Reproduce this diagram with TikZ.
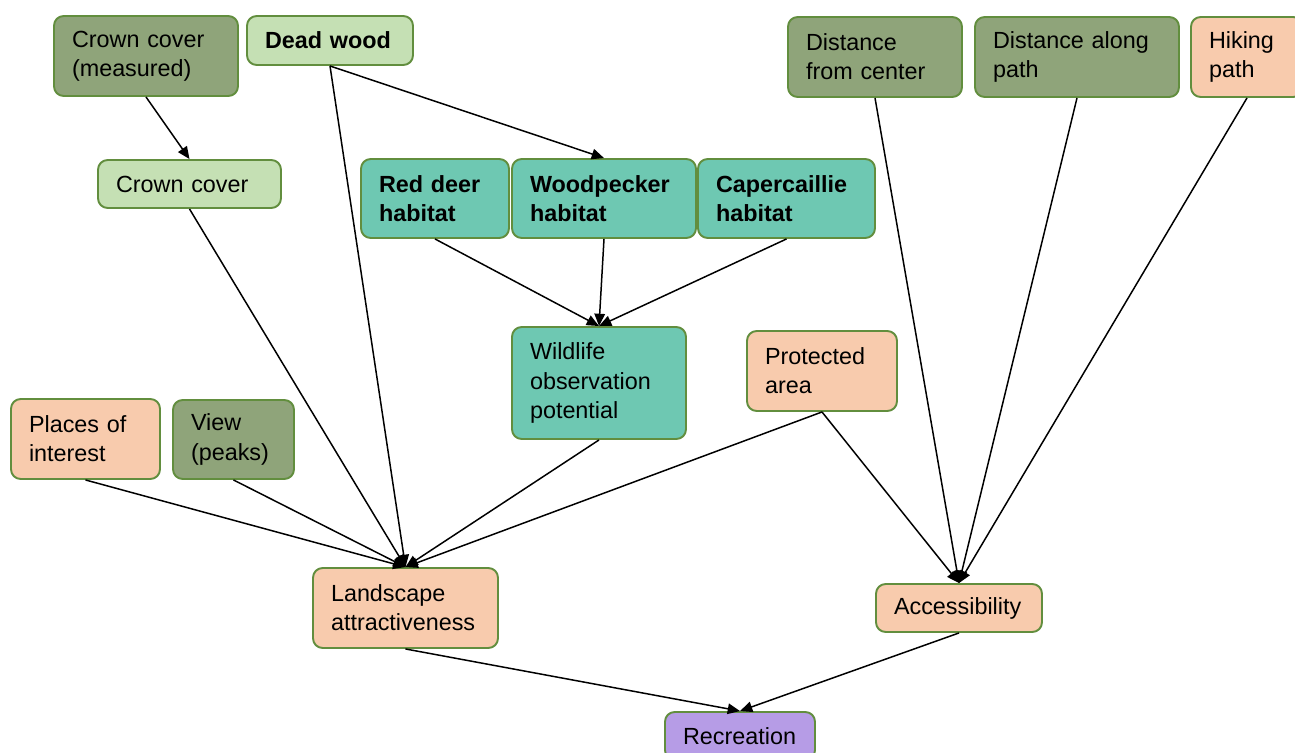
\documentclass[tikz,border=0pt]{standalone}
\usepackage{fontspec}
\setmainfont{Liberation Sans}
\usetikzlibrary{arrows.meta}

\definecolor{oliva}{RGB}{143,164,122}
\definecolor{verdeclaro}{RGB}{197,224,180}
\definecolor{turquesa}{RGB}{110,200,178}
\definecolor{melocoton}{RGB}{248,203,173}
\definecolor{lila}{RGB}{182,156,230}
\definecolor{borde}{RGB}{98,142,62}

\begin{document}
\begin{tikzpicture}[x=0.02cm,y=-0.02cm,
    caja/.style={draw=borde,line width=1.1pt,rounded corners=5.5pt,align=left,
      inner xsep=0.36cm,inner ysep=0pt,font=\fontsize{13.3}{16.6}\selectfont},
    negrita/.style={font=\fontsize{13.3}{16.6}\selectfont\bfseries},
    flecha/.style={line width=0.85pt,-{Triangle[length=7pt,width=6pt]}}]
  \clip (0,0) rectangle (1295,753);
  \fill[white] (0,0) rectangle (1295,753);

  % fila superior
  \node[caja,fill=oliva,text width=2.96cm,minimum height=1.6cm] (cobmed) at (146,56) {Crown cover\\(measured)};
  \node[caja,negrita,fill=verdeclaro,text width=2.6cm,minimum height=0.98cm] (muerta) at (330,40.5) {Dead wood};
  \node[caja,fill=oliva,text width=2.76cm,minimum height=1.6cm] (dcentro) at (875,57) {Distance\\from center};
  \node[caja,fill=oliva,text width=3.36cm,minimum height=1.6cm] (dcamino) at (1077,57) {Distance along\\path};
  \node[caja,fill=melocoton,text width=1.52cm,minimum height=1.6cm] (sendero) at (1247,57) {Hiking\\path};

  \node[caja,fill=verdeclaro,text width=2.94cm,minimum height=0.96cm] (cob) at (189.5,184) {Crown cover};

  % habitats
  \node[caja,negrita,fill=turquesa,text width=2.24cm,minimum height=1.58cm] (ciervo) at (435,198.5) {Red deer\\habitat};
  \node[caja,negrita,fill=turquesa,text width=2.96cm,minimum height=1.58cm] (pico) at (604,198.5) {Woodpecker\\habitat};
  \node[caja,negrita,fill=turquesa,text width=2.82cm,minimum height=1.58cm] (urogallo) at (786.5,198.5) {Capercaillie\\habitat};

  \node[caja,fill=turquesa,text width=2.76cm,minimum height=2.24cm] (fauna) at (599,383) {Wildlife\\observation\\potential};
  \node[caja,fill=melocoton,text width=2.28cm,minimum height=1.6cm] (protegida) at (822,371) {Protected\\area};

  \node[caja,fill=melocoton,text width=2.26cm,minimum height=1.6cm] (lugares) at (85.5,439) {Places of\\interest};
  \node[caja,fill=oliva,text width=1.70cm,minimum height=1.58cm] (vista) at (233.5,439.5) {View\\(peaks)};

  \node[caja,fill=melocoton,text width=2.98cm,minimum height=1.6cm] (paisaje) at (405.5,608) {Landscape\\attractiveness};
  \node[caja,fill=melocoton,text width=2.6cm,minimum height=0.96cm] (acceso) at (959,608) {Accessibility};
  \node[caja,fill=lila,text width=2.28cm,minimum height=0.96cm] (recreo) at (740,736) {Recreation};

  % conexiones
  \draw[flecha] (cobmed.south) -- (cob.north);
  \draw[flecha] (muerta.south) -- (pico.north);
  \foreach \a in {ciervo,pico,urogallo} {
    \draw[flecha] (\a.south) -- (fauna.north);
  }
  \foreach \a in {lugares,vista,cob,muerta,fauna,protegida} {
    \draw[flecha] (\a.south) -- (paisaje.north);
  }
  \foreach \a in {protegida,dcentro,dcamino,sendero} {
    \draw[flecha] (\a.south) -- (acceso.north);
  }
  \draw[flecha] (paisaje.south) -- (recreo.north);
  \draw[flecha] (acceso.south) -- (recreo.north);
\end{tikzpicture}
\end{document}
